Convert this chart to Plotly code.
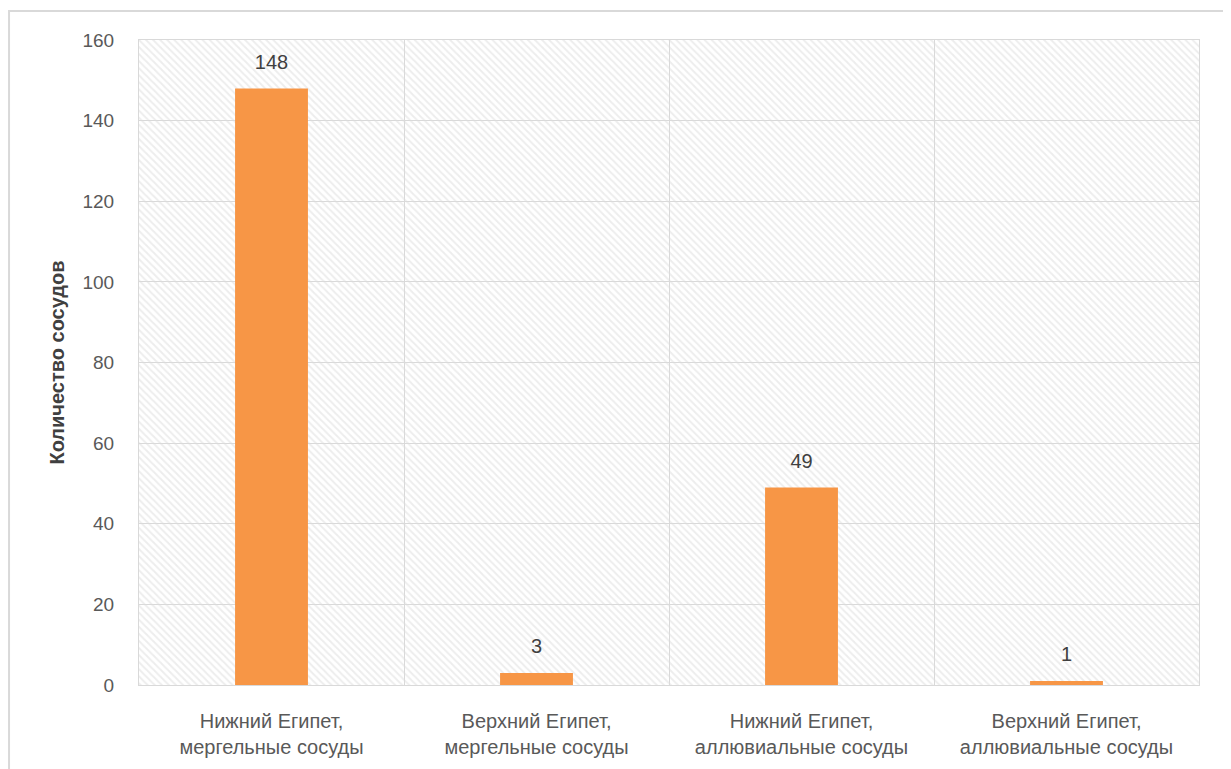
import plotly.graph_objects as go

categories = ["Нижний Египет,<br>мергельные сосуды",
              "Верхний Египет,<br>мергельные сосуды",
              "Нижний Египет,<br>аллювиальные сосуды",
              "Верхний Египет,<br>аллювиальные сосуды"]
values = [148, 3, 49, 1]
y_ticks = [0, 20, 40, 60, 80, 100, 120, 140, 160]
y_title = "Количество сосудов"

FONT = "Liberation Sans"
TXT = "#595959"
GRID = "#d9d9d9"

fig = go.Figure()

# hatched plot background
fig.add_trace(go.Bar(
    x=categories, y=[max(y_ticks)] * len(categories), width=1,
    marker=dict(color="rgba(0,0,0,0)", line=dict(width=0),
                pattern=dict(shape="\\", fgcolor="#dcdcdc", size=5, solidity=0.4,
                             fillmode="overlay")),
    hoverinfo="skip", showlegend=False))

fig.add_trace(go.Bar(
    x=categories, y=values, width=0.275,
    marker=dict(color="#F79646", line=dict(width=0)),
    showlegend=False))

fig.add_trace(go.Scatter(
    x=categories, y=values, mode="markers+text",
    text=[str(v) for v in values], textposition="top center",
    marker=dict(size=22, opacity=0),
    textfont=dict(family=FONT, size=20, color="#404040"),
    hoverinfo="skip", showlegend=False))

fig.update_layout(
    width=1223, height=761,
    margin=dict(l=131, r=32, t=32, b=84),
    paper_bgcolor="white", plot_bgcolor="white",
    barmode="overlay",
    font=dict(family=FONT, size=19, color=TXT),
    xaxis=dict(type="category", tickson="boundaries", ticks="",
               showgrid=True, gridcolor=GRID, gridwidth=1,
               showline=True, linecolor=GRID, mirror=True,
               ticklabelstandoff=18,
               tickfont=dict(family=FONT, size=20, color=TXT)),
    yaxis=dict(range=[0, 160], tickvals=y_ticks, showgrid=True, gridcolor=GRID,
               gridwidth=1, zeroline=False, showline=True, linecolor=GRID, mirror=True,
               ticks="", ticklabelstandoff=20,
               tickfont=dict(family=FONT, size=19, color=TXT),
               title=dict(text="<b>" + y_title + "</b>", standoff=12,
                          font=dict(family=FONT, size=20, color="#404040"))),
    shapes=[dict(type="rect", xref="paper", yref="paper",
                 x0=-0.1226, x1=1.0264, y0=-0.2, y1=1.045,
                 line=dict(color=GRID, width=2), fillcolor="rgba(0,0,0,0)",
                 layer="below")],
)

fig.write_html("out.html")
